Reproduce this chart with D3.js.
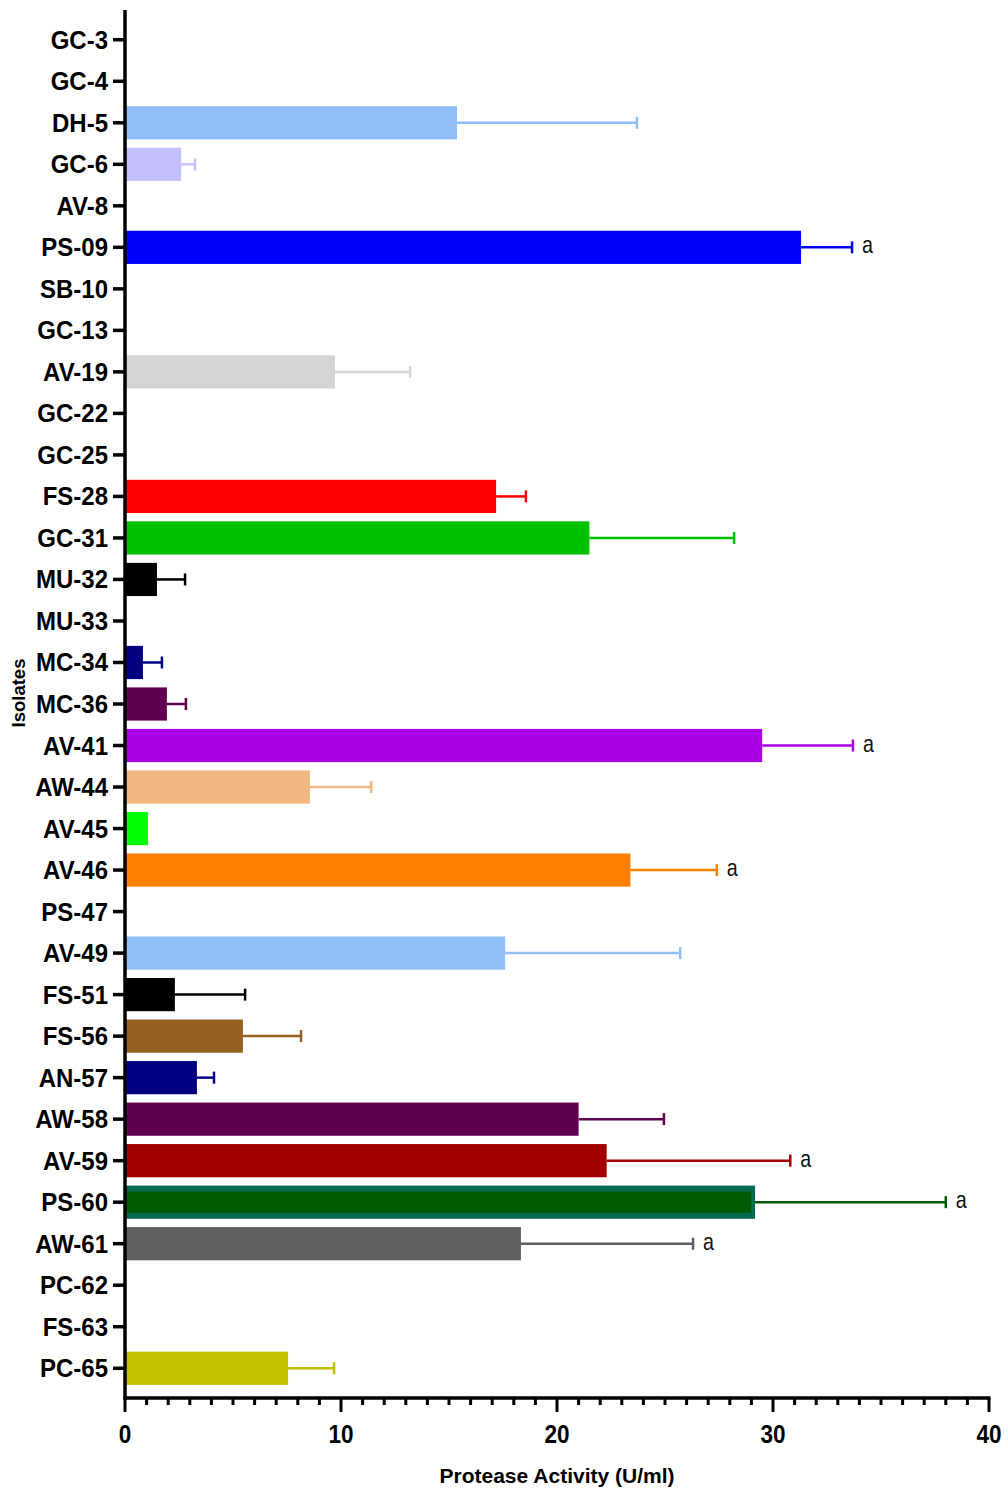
<!DOCTYPE html>
<html>
<head>
<meta charset="utf-8">
<script src="https://cdn.jsdelivr.net/npm/d3@7"></script>
<style>
  html, body { margin: 0; padding: 0; background: #fff; }
  svg { display: block; }
  .lbl { font-family: "Liberation Sans", Arial, sans-serif; font-weight: bold; }
  .sig { font-family: "Liberation Sans", Arial, sans-serif; }
</style>
</head>
<body>
<svg id="chart" width="1008" height="1493"></svg>
<script>
// Isolates, top to bottom
const isolates = ["GC-3","GC-4","DH-5","GC-6","AV-8","PS-09","SB-10","GC-13","AV-19","GC-22",
  "GC-25","FS-28","GC-31","MU-32","MU-33","MC-34","MC-36","AV-41","AW-44","AV-45",
  "AV-46","PS-47","AV-49","FS-51","FS-56","AN-57","AW-58","AV-59","PS-60","AW-61",
  "PC-62","FS-63","PC-65"];

// Mean protease activity (U/ml)
const activity = [0,0,15.37,2.6,0,31.3,0,0,9.72,0,
  0,17.18,21.5,1.48,0,0.83,1.94,29.5,8.56,1.06,
  23.4,0,17.6,2.31,5.46,3.33,21.0,22.3,29.17,18.33,
  0,0,7.55];

// Upper end of the error bar (mean + SD); null where no bar is shown
const upper = [null,null,23.7,3.24,null,33.66,null,null,13.2,null,
  null,18.56,28.2,2.78,null,1.71,2.82,33.7,11.4,null,
  27.4,null,25.7,5.56,8.15,4.12,24.95,30.8,38.0,26.3,
  null,null,9.68];

// Significance letters
const letters = ["","","","","","a","","","","",
  "","","","","","","","a","","",
  "a","","","","","","","a","a","a",
  "","",""];

const fills = ["#90bff7","#90bff7","#90bff7","#c4c0fb","#000","#0000ff","#000","#000","#d4d4d4","#000",
  "#000","#ff0000","#00c000","#000000","#000","#000080","#5f004f","#aa00e6","#f0b880","#00ff00",
  "#ff8000","#000","#90bff7","#000000","#936020","#000080","#5f004f","#a00000","#005a00","#606060",
  "#000","#000","#c0c000"];

const xTicks = [0,10,20,30,40];

const rows = isolates.map((name,i) => ({name, value: activity[i], upper: upper[i], letter: letters[i], fill: fills[i]}));

const svg = d3.select("#chart");

const x = d3.scaleLinear().domain([0,40]).range([125,989]);
const y = d3.scaleBand().domain(isolates).range([19,1389]).paddingInner(0.2).paddingOuter(0.1);

const axisY = 1398;

// places a text at (px,py) and squeezes it horizontally around that point
function placeNarrow(sel, px, py, sx) {
  sel.attr("x", 0).attr("y", 0)
     .attr("transform", (d,i) => `translate(${px(d,i)},${py(d,i)}) scale(${sx},1)`);
}

// bars
const bars = rows.filter(d => d.value > 0);
svg.append("g").selectAll("rect").data(bars).join("rect")
  .attr("x", x(0))
  .attr("y", d => y(d.name))
  .attr("width", d => x(d.value) - x(0))
  .attr("height", y.bandwidth())
  .attr("fill", d => d.name === "PS-60" ? "#006b4f" : d.fill);

// PS-60 has a darker green core inside a teal border
const ps60 = rows.find(d => d.name === "PS-60");
svg.append("rect")
  .attr("x", x(0))
  .attr("y", y(ps60.name) + 6)
  .attr("width", x(ps60.value) - x(0) - 4)
  .attr("height", y.bandwidth() - 12)
  .attr("fill", ps60.fill);

// error bars
const eb = svg.append("g");
rows.filter(d => d.upper != null).forEach(d => {
  const cy = y(d.name) + y.bandwidth()/2;
  eb.append("line")
    .attr("x1", x(d.value)).attr("x2", x(d.upper))
    .attr("y1", cy).attr("y2", cy)
    .attr("stroke", d.fill).attr("stroke-width", 2.5);
  eb.append("line")
    .attr("x1", x(d.upper)).attr("x2", x(d.upper))
    .attr("y1", cy - 6).attr("y2", cy + 6)
    .attr("stroke", d.fill).attr("stroke-width", 2.5);
});

// significance letters
svg.append("g").selectAll("text").data(rows.filter(d => d.letter)).join("text")
  .attr("class", "sig")
  .attr("font-size", 24)
  .attr("fill", "#111")
  .text(d => d.letter)
  .call(placeNarrow, d => x(d.upper) + 10, d => y(d.name) + y.bandwidth()/2 + 6, 0.82);

// left axis
const gy = svg.append("g").attr("transform", `translate(${x(0)},0)`)
  .call(d3.axisLeft(y).tickSize(12).tickPadding(4));
gy.select(".domain").remove();
gy.selectAll(".tick line").attr("stroke", "#000").attr("stroke-width", 3.5);
gy.selectAll(".tick text").attr("class", "lbl").attr("font-size", 25).attr("fill", "#000")
  .attr("dy", null)
  .call(placeNarrow, () => -17, () => 9, 0.96);
svg.append("line").attr("x1", x(0)).attr("x2", x(0)).attr("y1", 10).attr("y2", axisY + 1.5)
  .attr("stroke", "#000").attr("stroke-width", 3.5);

// bottom axis: minor ticks every unit, major every 10
const gx = svg.append("g").attr("transform", `translate(0,${axisY})`);
gx.append("line").attr("x1", x(0) - 1.5).attr("x2", x(40) + 1.5).attr("y1", 0).attr("y2", 0)
  .attr("stroke", "#000").attr("stroke-width", 3.5);
gx.selectAll("line.minor").data(d3.range(0, 41)).join("line").attr("class", "minor")
  .attr("x1", d => x(d)).attr("x2", d => x(d))
  .attr("y1", 0).attr("y2", d => d % 10 === 0 ? 14 : 7)
  .attr("stroke", "#000").attr("stroke-width", 3);
gx.selectAll("text").data(xTicks).join("text")
  .attr("class", "lbl")
  .attr("text-anchor", "middle").attr("font-size", 25)
  .text(d => d)
  .call(placeNarrow, d => x(d), () => 45, 0.9);

// axis titles
svg.append("text").attr("class", "lbl")
  .attr("text-anchor", "middle").attr("font-size", 21)
  .text("Protease Activity (U/ml)")
  .call(placeNarrow, () => 557, () => 1483, 1.0);
svg.append("text").attr("class", "lbl")
  .attr("transform", "translate(25,693) rotate(-90)")
  .attr("text-anchor", "middle").attr("font-size", 18.5)
  .text("Isolates");
</script>
</body>
</html>
